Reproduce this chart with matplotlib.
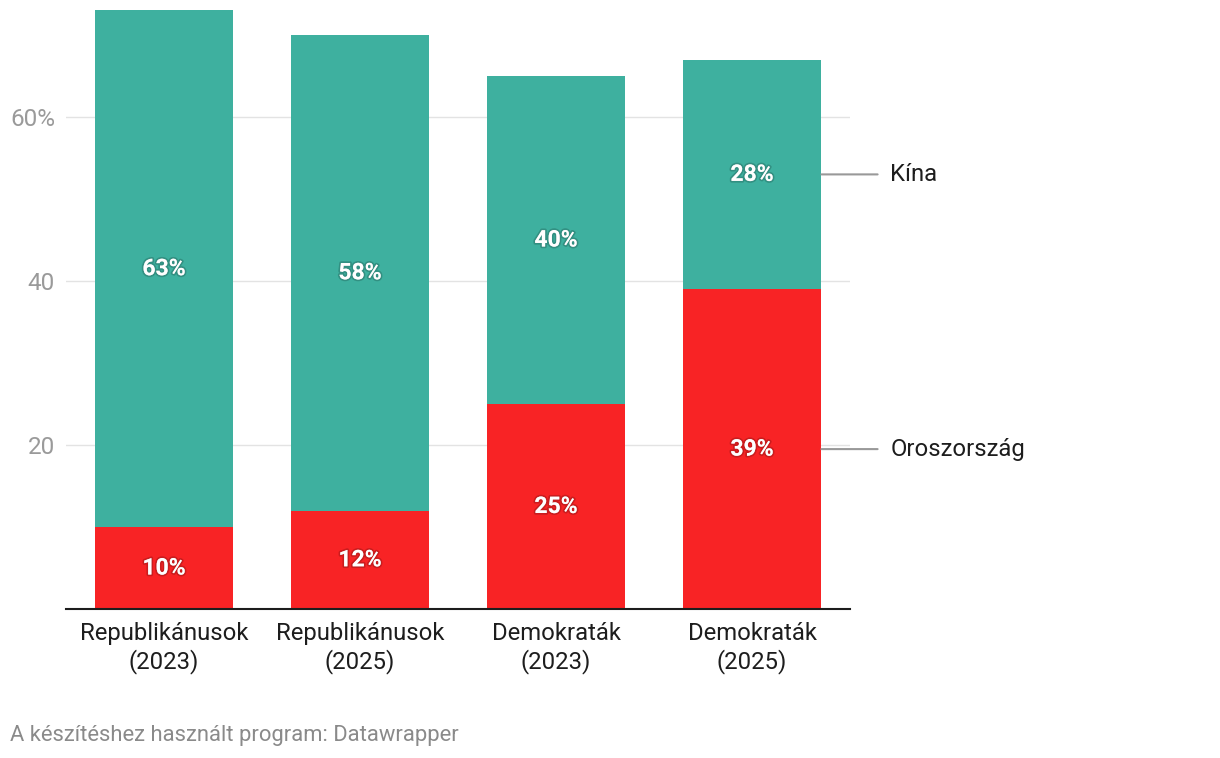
import matplotlib.pyplot as plt
import matplotlib.patheffects as pe

plt.rcParams["font.family"] = ["Roboto", "DejaVu Sans"]

categories = ["Republikánusok\n(2023)", "Republikánusok\n(2025)", "Demokraták\n(2023)", "Demokraták\n(2025)"]
russia = [10, 12, 25, 39]
china = [63, 58, 40, 28]
series_names = ["Oroszország", "Kína"]
yticks = [20, 40, 60]
ytick_labels = ["20", "40", "60%"]

RED = "#f82325"
TEAL = "#3eb09f"
GRID = "#e3e3e3"
MUTED = "#9a9a9a"
TEXT = "#1d1d1d"

W, H = 1220, 758
fig = plt.figure(figsize=(W / 100, H / 100), dpi=100)
ax = fig.add_axes([66 / W, 1 - 609 / H, (850 - 66) / W, 609 / H])

x = range(len(categories))
ax.bar(x, russia, width=0.7, color=RED, zorder=2)
ax.bar(x, china, width=0.7, bottom=russia, color=TEAL, zorder=2)

ax.set_xlim(-0.5, len(categories) - 0.5)
ax.set_ylim(0, 609 / 8.2)

shadow = [pe.withStroke(linewidth=2.5, foreground=(0, 0, 0, 0.18))]
for i, (r, c) in enumerate(zip(russia, china)):
    ax.text(i, r / 2, f"{r}%", ha="center", va="center", color="white",
            fontsize=16.5, weight="bold", path_effects=shadow, zorder=3)
    ax.text(i, r + c / 2, f"{c}%", ha="center", va="center", color="white",
            fontsize=16.5, weight="bold", path_effects=shadow, zorder=3)

for y in yticks:
    ax.axhline(y, color=GRID, lw=1, zorder=1)
ax.set_yticks(yticks)
ax.set_yticklabels(ytick_labels)
ax.tick_params(axis="y", length=0, pad=8, labelsize=17.5, labelcolor=MUTED)

ax.set_xticks(list(x))
ax.set_xticklabels(categories, fontsize=17.2, color=TEXT, linespacing=1.22)
ax.tick_params(axis="x", length=0, pad=9.5)

for s in ["top", "right", "left"]:
    ax.spines[s].set_visible(False)
ax.spines["bottom"].set_color(TEXT)
ax.spines["bottom"].set_linewidth(1.5)
ax.spines["bottom"].set_zorder(4)

# direct labels for the series, aligned with the last bar
last = len(categories) - 1
label_y = [russia[last] / 2, russia[last] + china[last] / 2]
for name, yv in zip(series_names, label_y):
    ax.annotate("", xy=(last + 0.34, yv), xytext=(last + 0.655, yv),
                arrowprops=dict(arrowstyle="-", color="#999999", lw=1.5),
                annotation_clip=False)
    ax.text(last + 0.705, yv, name, ha="left", va="center", fontsize=17.2,
            color=TEXT, clip_on=False)

fig.text(10 / W, 1 - 735 / H, "A készítéshez használt program: Datawrapper",
         fontsize=15.85, color="#8a8a8a", ha="left", va="center")

fig.savefig("out.png", dpi=100, facecolor="white")
